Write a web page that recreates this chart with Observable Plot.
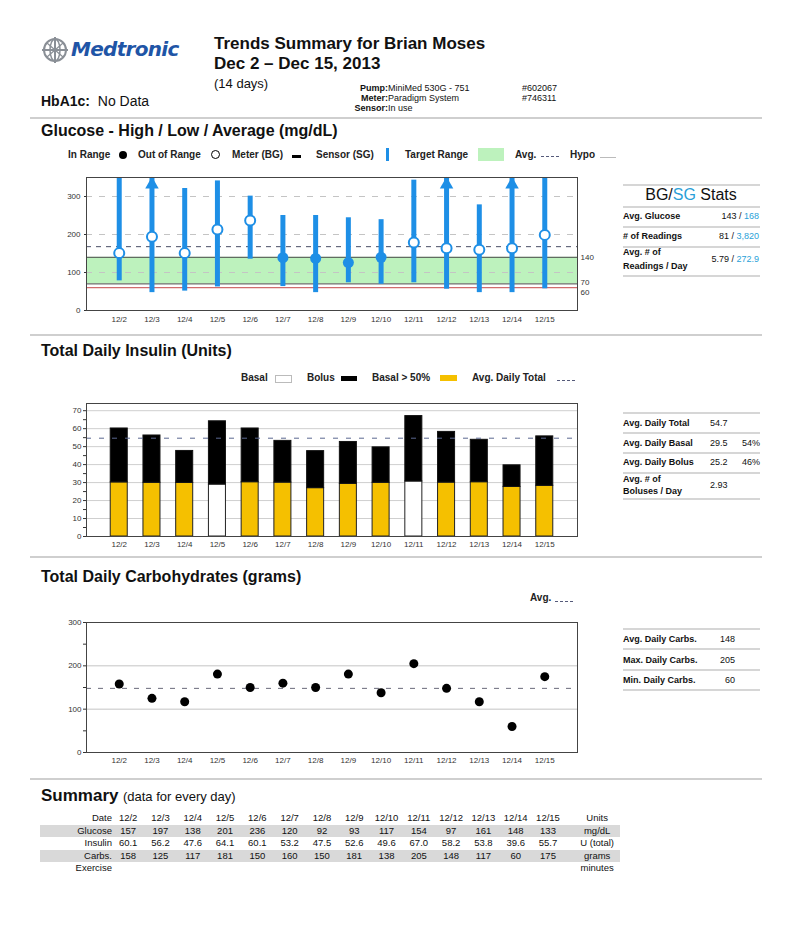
<!DOCTYPE html>
<html><head><meta charset="utf-8">
<script src="https://cdn.jsdelivr.net/npm/d3@7"></script>
<script src="https://cdn.jsdelivr.net/npm/@observablehq/plot@0.6"></script>
<style>
body{margin:0;background:#fff;font-family:"Liberation Sans",Arial,sans-serif;color:#111}
#page{position:relative;width:800px;height:952px;overflow:hidden;background:#fff}
.a{position:absolute;white-space:nowrap;line-height:1.15}
.chart{position:absolute;left:0}
.chart svg{overflow:visible}
table.sum{position:absolute;left:40px;top:812px;width:580px;border-collapse:collapse;table-layout:fixed;font-size:9.5px;color:#111}
table.sum td{padding:0;height:12.6px;line-height:12.6px;text-align:center;white-space:nowrap}
table.sum td.lab{text-align:right}
table.sum tr.sh td{background:#d9d9d9}
</style></head>
<body><div id="page"></div>
<script>
// ---------------- DATA ----------------
const dates = ["12/2","12/3","12/4","12/5","12/6","12/7","12/8","12/9","12/10","12/11","12/12","12/13","12/14","12/15"];
// Sensor glucose high / low / average per day (mg/dL); highs above 350 are off the chart (arrow)
const sgHigh = [350, 400, 321, 341, 301, 250, 250, 244, 239, 343, 400, 278, 400, 350];
const sgLow  = [78, 47, 51, 62, 135, 63, 47, 73, 69, 73, 56, 47, 47, 57];
const sgAvg  = [151, 194, 151, 213, 237, 139, 137, 126, 140, 179, 164, 160, 164, 199];
const targetRange = [70, 140];
const hypoLine = 60;
const avgSG = 168;
const glucoseTicks = [0, 100, 200, 300];
// Insulin (units)
const basal = [30.1, 29.9, 29.8, 28.9, 30.2, 30.0, 26.9, 29.3, 29.9, 30.6, 30.0, 30.2, 27.6, 28.2];
const totalInsulin = [60.1, 56.2, 47.6, 64.1, 60.1, 53.2, 47.5, 52.6, 49.6, 67.0, 58.2, 53.8, 39.6, 55.7];
const avgDailyTotal = 54.7;
// Carbohydrates (grams)
const carbs = [158, 125, 117, 181, 150, 160, 150, 181, 138, 205, 148, 117, 60, 175];
const avgCarbs = 148;
// Summary table
const glucoseDaily = [157, 197, 138, 201, 236, 120, 92, 93, 117, 154, 97, 161, 148, 133];
// Stats panels
const bgLabels = [["Avg. Glucose"], ["# of Readings"], ["Avg. # of", "Readings / Day"]];
const bgValues = ["143", "81", "5.79"];
const sgValues = ["168", "3,820", "272.9"];
const insLabels = [["Avg. Daily Total"], ["Avg. Daily Basal"], ["Avg. Daily Bolus"], ["Avg. # of", "Boluses / Day"]];
const insValues = ["54.7", "29.5", "25.2", "2.93"];
const insPct = ["", "54%", "46%", ""];
const carbLabels = ["Avg. Daily Carbs.", "Max. Daily Carbs.", "Min. Daily Carbs."];
const carbValues = ["148", "205", "60"];

// ---------------- HELPERS ----------------
const page = document.getElementById("page");
function T(x, y, html, css = "", anchor = "start") {
  const e = document.createElement("div");
  e.className = "a";
  const tx = anchor === "end" ? "-100%" : anchor === "middle" ? "-50%" : "0";
  e.style.cssText = `left:${x}px;top:${y}px;transform:translate(${tx},-50%);` + css;
  e.innerHTML = html;
  page.appendChild(e);
  return e;
}
function box(x, y, w, h, css) {
  const e = document.createElement("div");
  e.style.cssText = `position:absolute;left:${x}px;top:${y}px;width:${w}px;height:${h}px;` + css;
  page.appendChild(e);
  return e;
}
function hr(y) { box(30, y, 732, 2, "background:#cfcfcf"); }
function sl(y) { box(623, y, 137, 2, "background:#d6d6d6"); }
function chart(top, svg) { const d = document.createElement("div"); d.className = "chart"; d.style.top = top + "px"; d.appendChild(svg); page.appendChild(d); }

const FONT = "'Liberation Sans', Arial, sans-serif";
const BLUE = "#1e8fe6";
const SGBLUE = "#2a9fd8";
const axStyle = {fontFamily: FONT, fontSize: "8px", color: "#333", background: "transparent", overflow: "visible"};

// ---------------- HEADER ----------------
page.insertAdjacentHTML("beforeend", `<svg style="position:absolute;left:41px;top:36px" width="28" height="28" viewBox="0 0 28 28">
<circle cx="14" cy="14" r="11" fill="none" stroke="#8a8f96" stroke-width="2"/>
<ellipse cx="14" cy="14" rx="5" ry="11" fill="none" stroke="#8a8f96" stroke-width="1.5"/>
<line x1="1" y1="14" x2="27" y2="14" stroke="#8a8f96" stroke-width="2"/>
<line x1="14" y1="1" x2="14" y2="27" stroke="#8a8f96" stroke-width="2"/>
<path d="M6 7 L22 21 M6 21 L22 7" stroke="#8a8f96" stroke-width="1.2"/></svg>`);
T(71, 49, "Medtronic", "font:italic 900 20px 'DejaVu Sans',sans-serif;color:#1f55a6;letter-spacing:-0.7px");
T(214, 44, "Trends Summary for Brian Moses", "font-weight:bold;font-size:17px");
T(214, 64, "Dec 2 – Dec 15, 2013", "font-weight:bold;font-size:17px");
T(214, 84, "(14 days)", "font-size:13px");
T(41, 101, "<b>HbA1c:</b>&nbsp; No Data", "font-size:14px");
T(388, 88, "<b>Pump:</b>", "font-size:9px", "end"); T(388, 88, "MiniMed 530G - 751", "font-size:9px");
T(388, 98, "<b>Meter:</b>", "font-size:9px", "end"); T(388, 98, "Paradigm System", "font-size:9px");
T(388, 108, "<b>Sensor:</b>", "font-size:9px", "end"); T(388, 108, "In use", "font-size:9px");
T(522, 88, "#602067", "font-size:9px");
T(522, 98, "#746311", "font-size:9px");
hr(117);

// ---------------- GLUCOSE ----------------
T(41, 131, "Glucose - High / Low / Average (mg/dL)", "font-weight:bold;font-size:16px");
const LG = "font-weight:bold;font-size:10px;color:#222";
T(68, 155, "In Range", LG); box(119, 151, 8, 8, "border-radius:50%;background:#000");
T(138, 155, "Out of Range", LG); box(211, 150, 7, 7, "border-radius:50%;border:1.5px solid #000;background:#fff");
T(232, 155, "Meter (BG)", LG); box(292, 155, 9, 3, "background:#000");
T(316, 155, "Sensor (SG)", LG); box(386, 148, 3, 13, "background:" + BLUE);
T(405, 155, "Target Range", LG); box(478, 148, 26, 13, "background:#bdf2bd");
T(515, 155, "Avg.", LG); box(541, 156, 18, 0, "border-top:1px dashed #555a7a");
T(570, 155, "Hypo", LG); box(600, 157, 16, 0, "border-top:1px solid #bbb");

const gData = dates.map((d, i) => ({date: d, high: sgHigh[i], low: sgLow[i], avg: sgAvg[i]}));
const yMaxG = 350;
const inRange = d => d.avg >= targetRange[0] && d.avg <= targetRange[1];
chart(170, Plot.plot({
  width: 620, height: 160, marginLeft: 86, marginRight: 43, marginTop: 7, marginBottom: 20,
  style: axStyle,
  x: {type: "point", domain: dates, padding: 1, round: false, label: null, tickSize: 0, tickPadding: 6},
  y: {domain: [0, yMaxG], clamp: true, ticks: glucoseTicks, label: null, tickSize: 2, tickPadding: 4},
  marks: [
    Plot.rect([targetRange], {y1: d => d[0], y2: d => d[1], fill: "#bdf2bd"}),
    Plot.ruleY(glucoseTicks.filter(v => v > 0), {stroke: "#c4c4c4", strokeDasharray: "6,7"}),
    Plot.ruleY(targetRange, {stroke: "#4a4a4a", strokeWidth: 1}),
    Plot.ruleY([hypoLine], {stroke: "#d06c6c", strokeWidth: 1.3}),
    Plot.ruleY([avgSG], {stroke: "#4a4f66", strokeDasharray: "5,5"}),
    Plot.ruleX(gData, {x: "date", y1: "low", y2: "high", stroke: BLUE, strokeWidth: 5}),
    Plot.dot(gData.filter(d => d.high > yMaxG), {x: "date", y: () => yMaxG, symbol: "triangle", r: 5, fill: BLUE, dy: 7}),
    Plot.dot(gData.filter(d => !inRange(d)), {x: "date", y: "avg", r: 5, stroke: BLUE, strokeWidth: 2, fill: "#fff"}),
    Plot.dot(gData.filter(inRange), {x: "date", y: "avg", r: 5.5, fill: BLUE}),
    Plot.frame({stroke: "#444"}),
    Plot.text([targetRange[1]], {y: d => d, text: d => String(d), frameAnchor: "right", textAnchor: "start", dx: 3, fontSize: 8, fill: "#333"}),
    Plot.text([targetRange[0]], {y: d => d, text: d => String(d), frameAnchor: "right", textAnchor: "start", dx: 3, dy: -1, fontSize: 8, fill: "#333"}),
    Plot.text([hypoLine], {y: d => d, text: d => String(d), frameAnchor: "right", textAnchor: "start", dx: 3, dy: 5, fontSize: 8, fill: "#333"})
  ]
}));

// BG/SG stats
sl(184);
T(691, 195, `BG/<span style="color:${SGBLUE}">SG</span> Stats`, "font-size:16px", "middle");
sl(206);
const bgRowY = [216, 236, 259];
const bgLineY = [226, 246, 275];
bgLabels.forEach((l, i) => {
  if (l.length === 1) T(623, bgRowY[i], l[0], "font-weight:bold;font-size:9px");
  else { T(623, bgRowY[i] - 7, l[0], "font-weight:bold;font-size:9px"); T(623, bgRowY[i] + 7, l[1], "font-weight:bold;font-size:9px"); }
  T(759, bgRowY[i], `${bgValues[i]} / <span style="color:${SGBLUE}">${sgValues[i]}</span>`, "font-size:9px", "end");
  sl(bgLineY[i]);
});
hr(334);

// ---------------- INSULIN ----------------
T(41, 351, "Total Daily Insulin (Units)", "font-weight:bold;font-size:16px");
T(241, 378, "Basal", LG); box(275, 375, 15, 6, "border:1px solid #bbb;background:#fff");
T(307, 378, "Bolus", LG); box(341, 376, 16, 5, "background:#000");
T(372, 378, "Basal &gt; 50%", LG); box(440, 375, 17, 6, "background:#f5c000");
T(472, 378, "Avg. Daily Total", LG); box(557, 380, 18, 0, "border-top:1px dashed #555a7a");

const iData = dates.map((d, i) => ({date: d, basal: basal[i], total: totalInsulin[i], over: basal[i] / totalInsulin[i] > 0.5}));
chart(395, Plot.plot({
  width: 620, height: 160, marginLeft: 86, marginRight: 43, marginTop: 8, marginBottom: 19,
  style: axStyle,
  x: {type: "band", domain: dates, paddingInner: 0.48, paddingOuter: 0.74, round: false, label: null},
  y: {domain: [0, 74], label: null},
  marks: [
    Plot.ruleY(d3.range(10, 71, 10), {stroke: "#cfcfcf"}),
    Plot.axisX({tickSize: 0, tickPadding: 5, fontSize: 8}),
    Plot.axisY(d3.range(0, 71, 5), {tickSize: 3, tickPadding: 2, tickFormat: d => d % 10 === 0 ? String(d) : ""}),
    Plot.barY(iData.filter(d => d.over), {x: "date", y1: 0, y2: "basal", fill: "#f5c000", stroke: "#222", strokeWidth: 1}),
    Plot.barY(iData.filter(d => !d.over), {x: "date", y1: 0, y2: "basal", fill: "#fff", stroke: "#222", strokeWidth: 1}),
    Plot.barY(iData, {x: "date", y1: "basal", y2: "total", fill: "#000", stroke: "#111"}),
    Plot.ruleY([avgDailyTotal], {stroke: "#5a6890", strokeDasharray: "5,8"}),
    Plot.frame({stroke: "#444"})
  ]
}));

// Insulin stats
sl(412);
const insRowY = [423, 443, 462, 485];
const insLineY = [432, 452, 472, 498];
insLabels.forEach((l, i) => {
  if (l.length === 1) T(623, insRowY[i], l[0], "font-weight:bold;font-size:9px");
  else { T(623, insRowY[i] - 6, l[0], "font-weight:bold;font-size:9px"); T(623, insRowY[i] + 6, l[1], "font-weight:bold;font-size:9px"); }
  T(710, insRowY[i], insValues[i], "font-size:9px");
  if (insPct[i]) T(760, insRowY[i], insPct[i], "font-size:9px", "end");
  sl(insLineY[i]);
});
hr(556);

// ---------------- CARBS ----------------
T(41, 577, "Total Daily Carbohydrates (grams)", "font-weight:bold;font-size:16px");
T(530, 598, "Avg.", LG); box(555, 601, 18, 0, "border-top:1px dashed #555a7a");
const cData = dates.map((d, i) => ({date: d, carbs: carbs[i]}));
chart(614, Plot.plot({
  width: 620, height: 156, marginLeft: 86, marginRight: 43, marginTop: 8, marginBottom: 18,
  style: axStyle,
  x: {type: "point", domain: dates, padding: 1, round: false, label: null},
  y: {domain: [0, 300], label: null},
  marks: [
    Plot.ruleY([100, 200], {stroke: "#c4c4c4"}),
    Plot.ruleY([avgCarbs], {stroke: "#6a6a7a", strokeDasharray: "5,7"}),
    Plot.axisX({tickSize: 0, tickPadding: 5, fontSize: 8}),
    Plot.axisY(d3.range(0, 301, 50), {tickSize: 3, tickPadding: 2, tickFormat: d => d % 100 === 0 ? String(d) : ""}),
    Plot.dot(cData, {x: "date", y: "carbs", r: 4.5, fill: "#000"}),
    Plot.frame({stroke: "#444"})
  ]
}));
sl(628);
const carbRowY = [639, 660, 680];
const carbLineY = [648, 669, 689];
carbLabels.forEach((l, i) => {
  T(623, carbRowY[i], l, "font-weight:bold;font-size:9px");
  T(735, carbRowY[i], carbValues[i], "font-size:9px", "end");
  sl(carbLineY[i]);
});
hr(778);

// ---------------- SUMMARY ----------------
T(41, 796, `<b style="font-size:17px">Summary</b> <span style="font-size:13px">(data for every day)</span>`, "");
const rows = [
  {label: "Date", values: dates, unit: "Units", sh: false},
  {label: "Glucose", values: glucoseDaily.map(String), unit: "mg/dL", sh: true},
  {label: "Insulin", values: totalInsulin.map(v => v.toFixed(1)), unit: "U (total)", sh: false},
  {label: "Carbs.", values: carbs.map(String), unit: "grams", sh: true},
  {label: "Exercise", values: dates.map(() => ""), unit: "minutes", sh: false}
];
let html = `<table class="sum"><colgroup><col style="width:72px">${dates.map(() => '<col style="width:32.3px">').join("")}<col style="width:56px"></colgroup>`;
rows.forEach(r => {
  html += `<tr class="${r.sh ? "sh" : ""}"><td class="lab">${r.label}</td>${r.values.map(v => `<td>${v}</td>`).join("")}<td style="padding-left:10px">${r.unit}</td></tr>`;
});
html += "</table>";
page.insertAdjacentHTML("beforeend", html);
</script>
</body></html>
